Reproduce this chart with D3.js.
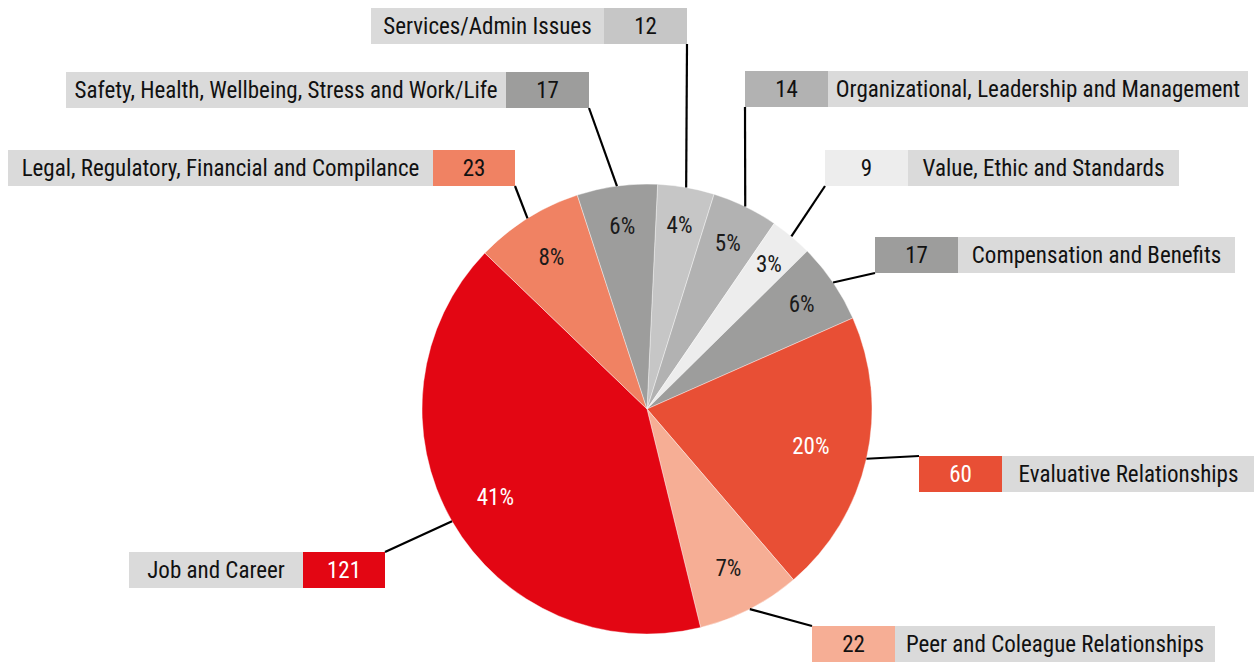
<!DOCTYPE html>
<html>
<head>
<meta charset="utf-8">
<script src="https://cdn.jsdelivr.net/npm/d3@7"></script>
<style>
  html, body { margin: 0; padding: 0; background: #ffffff; }
  svg { display: block; }
  text { font-family: "Liberation Sans Narrow", "Arial Narrow", "Roboto Condensed", Roboto, "Liberation Sans", sans-serif; }
</style>
</head>
<body>
<svg id="chart" width="1254" height="662"></svg>
<script>
// ---- data ----
const categories = [
  "Services/Admin Issues",
  "Organizational, Leadership and Management",
  "Value, Ethic and Standards",
  "Compensation and Benefits",
  "Evaluative Relationships",
  "Peer and Coleague Relationships",
  "Job and Career",
  "Legal, Regulatory, Financial and Compilance",
  "Safety, Health, Wellbeing, Stress and Work/Life"
];
const values = [12, 14, 9, 17, 60, 22, 121, 23, 17];

// ---- styles ----
const sliceColors = ["#c6c6c6", "#b2b2b2", "#ededed", "#9d9d9c", "#e84f35", "#f6ae95", "#e30613", "#f08263", "#9d9d9c"];
const darkSlice = [false, false, false, false, true, false, true, false, false];
const labelBg = "#dadada";

// ---- layout (label boxes) ----
// valueSide: which side the value box sits; anchor: corner the leader line attaches to
const labelLayout = [
  { x: 371, y: 8,   lw: 233, vw: 83, valueSide: "right", anchor: "br" },
  { x: 745, y: 71,  lw: 420, vw: 83, valueSide: "left",  anchor: "bl" },
  { x: 825, y: 150, lw: 271, vw: 83, valueSide: "left",  anchor: "bl" },
  { x: 875, y: 237, lw: 277, vw: 83, valueSide: "left",  anchor: "bl" },
  { x: 919, y: 456, lw: 253, vw: 83, valueSide: "left",  anchor: "tl" },
  { x: 812, y: 626, lw: 320, vw: 83, valueSide: "left",  anchor: "tl" },
  { x: 129, y: 552, lw: 174, vw: 82, valueSide: "right", anchor: "tr" },
  { x: 8,   y: 150, lw: 425, vw: 82, valueSide: "right", anchor: "br" },
  { x: 66,  y: 72,  lw: 440, vw: 83, valueSide: "right", anchor: "br" }
];
const pctRadius = [187, 185, 190, 187, 168, 178, 175, 180, 185];
const boxH = 36;

const cx = 647, cy = 409, R = 225;
const startAngle = 2.7 * Math.PI / 180;

const svg = d3.select("#chart");
const total = d3.sum(values);
const data = categories.map((c, i) => ({ name: c, value: values[i], i }));

const pie = d3.pie().value(d => d.value).sort(null)
  .startAngle(startAngle).endAngle(startAngle + 2 * Math.PI);
const arcs = pie(data);
const arc = d3.arc().innerRadius(0).outerRadius(R);

const g = svg.append("g").attr("transform", `translate(${cx},${cy})`);

g.selectAll("path.slice").data(arcs).enter().append("path")
  .attr("class", "slice")
  .attr("d", arc)
  .attr("fill", d => sliceColors[d.data.i])
  .attr("stroke", "#ffffff")
  .attr("stroke-width", 0.4);

// percentage labels
const fmtPct = d3.format(".0%");
g.selectAll("text.pct").data(arcs).enter().append("text")
  .attr("class", "pct")
  .attr("transform", d => {
    const r = pctRadius[d.data.i];
    const a = d3.arc().innerRadius(r).outerRadius(r);
    const [x, y] = a.centroid(d);
    return `translate(${x},${y})`;
  })
  .attr("text-anchor", "middle")
  .attr("dy", "0.36em")
  .attr("font-size", 23)
  .attr("fill", d => darkSlice[d.data.i] ? "#ffffff" : "#1a1a1a")
  .text(d => fmtPct(d.value / total));

// leader lines and label boxes
const lab = svg.append("g");
arcs.forEach(d => {
  const i = d.data.i;
  const L = labelLayout[i];
  const W = L.lw + L.vw;
  const mid = (d.startAngle + d.endAngle) / 2;
  const px = cx + R * Math.sin(mid), py = cy - R * Math.cos(mid);
  const ax = L.anchor[1] === "r" ? L.x + W : L.x;
  const ay = L.anchor[0] === "b" ? L.y + boxH : L.y;
  lab.append("line")
    .attr("x1", px).attr("y1", py).attr("x2", ax).attr("y2", ay)
    .attr("stroke", "#000000").attr("stroke-width", 2.2);

  const vx = L.valueSide === "right" ? L.x + L.lw : L.x;
  const lx = L.valueSide === "right" ? L.x : L.x + L.vw;
  lab.append("rect").attr("x", lx).attr("y", L.y).attr("width", L.lw).attr("height", boxH).attr("fill", labelBg);
  lab.append("rect").attr("x", vx).attr("y", L.y).attr("width", L.vw).attr("height", boxH).attr("fill", sliceColors[i]);
  lab.append("text")
    .attr("x", lx + L.lw / 2).attr("y", L.y + boxH / 2)
    .attr("dy", "0.36em").attr("text-anchor", "middle")
    .attr("font-size", 23).attr("fill", "#111111")
    .text(d.data.name);
  lab.append("text")
    .attr("x", vx + L.vw / 2).attr("y", L.y + boxH / 2)
    .attr("dy", "0.36em").attr("text-anchor", "middle")
    .attr("font-size", 23).attr("fill", darkSlice[i] ? "#ffffff" : "#111111")
    .text(d.data.value);
});
</script>
</body>
</html>
